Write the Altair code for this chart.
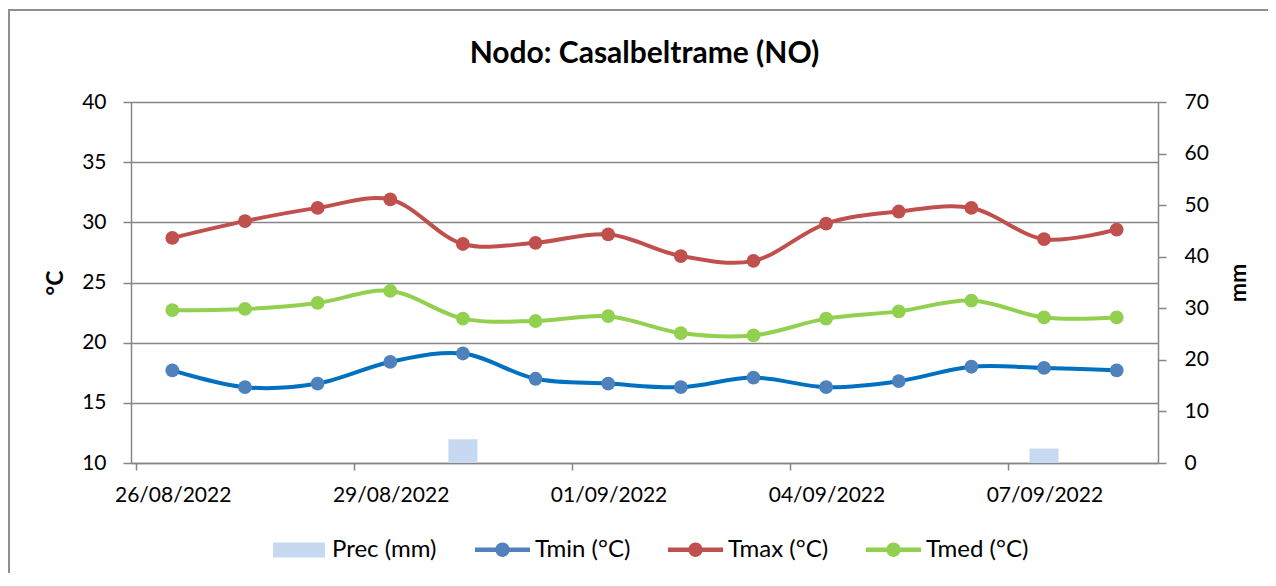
import altair as alt
import pandas as pd

# ---- data ----
dates = ["26/08/2022", "27/08/2022", "28/08/2022", "29/08/2022", "30/08/2022",
         "31/08/2022", "01/09/2022", "02/09/2022", "03/09/2022", "04/09/2022",
         "05/09/2022", "06/09/2022", "07/09/2022", "08/09/2022"]
tmin = [17.7, 16.3, 16.6, 18.4, 19.1, 17.0, 16.6, 16.3, 17.1, 16.3, 16.8, 18.0, 17.9, 17.7]
tmax = [28.7, 30.1, 31.2, 31.9, 28.2, 28.3, 29.0, 27.2, 26.8, 29.9, 30.9, 31.2, 28.6, 29.4]
tmed = [22.7, 22.8, 23.3, 24.3, 22.0, 21.8, 22.2, 20.8, 20.6, 22.0, 22.6, 23.5, 22.1, 22.1]
prec = [0, 0, 0, 0, 4.6, 0, 0, 0, 0, 0, 0, 0, 2.8, 0]
tick_days = [0, 3, 6, 9, 12]

series_names = ["Tmin (°C)", "Tmax (°C)", "Tmed (°C)"]
line_colors = ["#0070C0", "#C0504D", "#92D050"]
marker_colors = ["#4F81BD", "#C0504D", "#92D050"]
prec_name = "Prec (mm)"
prec_color = "#C6D9F1"

# ---- tables ----
rows = []
for name, vals in zip(series_names, [tmin, tmax, tmed]):
    for i, v in enumerate(vals):
        rows.append({"pos": i + 0.5, "date": dates[i], "series": name, "value": v})
temp_df = pd.DataFrame(rows)
prec_df = pd.DataFrame({"pos": [i + 0.5 for i in range(len(dates))],
                        "date": dates, "prec": prec, "series": prec_name})

W, H = 1027, 361
GRAY = "#868686"
FONT = "Lato"
LEG_FS = 24
half_day = W / len(dates) / 2

label_expr = "[" + ",".join("'" + d + "'" for d in dates) + "][datum.value]"
x_axis = alt.Axis(values=tick_days, labelExpr=label_expr, title=None, grid=False,
                  domainColor=GRAY, domainWidth=1.5, tickColor=GRAY, tickWidth=1.5,
                  tickSize=7, labelPadding=14, labelFontSize=21, labelColor="#000",
                  labelFont=FONT, labelAngle=0, labelOffset=half_day)
x_enc = alt.X("pos:Q", scale=alt.Scale(domain=[0, 14], nice=False, zero=False), axis=x_axis)

y_axis = alt.Axis(orient="left", values=[10, 15, 20, 25, 30, 35, 40], title="°C",
                  grid=True, gridColor=GRAY, gridWidth=1.5,
                  domainColor=GRAY, domainWidth=1.5, tickColor=GRAY, tickWidth=1.5,
                  tickSize=8, labelPadding=17, labelFontSize=21, labelColor="#000",
                  labelFont=FONT, titleFont=FONT, titleFontSize=23, titleFontWeight="bold",
                  titleAngle=-90, titleX=-76, titleY=H / 2, titleAlign="center",
                  titleBaseline="middle", titleColor="#000")
y_scale = alt.Scale(domain=[10, 40], nice=False, zero=False)

lines = alt.Chart(temp_df).mark_line(interpolate="catmull-rom", strokeWidth=4,
                                     strokeCap="round").encode(
    x=x_enc,
    y=alt.Y("value:Q", scale=y_scale, axis=y_axis),
    color=alt.Color("series:N", scale=alt.Scale(domain=series_names, range=line_colors),
                    legend=None),
)

line_symbol = ("M-1,-0.08H1V0.08H-1Z "
               "M0.26,0A0.26,0.26 0 1,1 -0.26,0A0.26,0.26 0 1,1 0.26,0Z")
points = alt.Chart(temp_df).mark_point(filled=True, size=190, opacity=1).encode(
    x=x_enc,
    y=alt.Y("value:Q", scale=y_scale, axis=y_axis),
    color=alt.Color("series:N", scale=alt.Scale(domain=series_names, range=marker_colors),
                    legend=alt.Legend(orient="none", legendX=344, legendY=420, direction="horizontal",
                                      columns=3, title=None, padding=0, symbolType=line_symbol,
                                      symbolSize=3025, symbolStrokeWidth=0, symbolOpacity=1,
                                      labelFontSize=LEG_FS, labelFont=FONT, labelColor="#000",
                                      labelOffset=5, columnPadding=37)),
)

temps = alt.layer(lines, points).resolve_scale(color="independent")

bars = alt.Chart(prec_df).mark_bar(size=29).encode(
    x=x_enc,
    y=alt.Y("prec:Q", scale=alt.Scale(domain=[0, 70], nice=False, zero=True),
            axis=alt.Axis(orient="right", values=[0, 10, 20, 30, 40, 50, 60, 70], title="mm",
                          grid=False, domainColor=GRAY, domainWidth=1.5, tickColor=GRAY,
                          tickWidth=1.5, tickSize=8, labelPadding=18, labelFontSize=21,
                          labelColor="#000", labelFont=FONT, titleFont=FONT, titleFontSize=23,
                          titleFontWeight="bold", titleAngle=-90, titleX=80, titleY=H / 2,
                          titleAlign="center", titleBaseline="middle", titleColor="#000")),
    color=alt.Color("series:N", scale=alt.Scale(domain=[prec_name], range=[prec_color]),
                    legend=alt.Legend(orient="none", legendX=142, legendY=422, title=None,
                                      padding=0, symbolType="M-1,-0.29H1V0.29H-1Z",
                                      symbolSize=2704, symbolStrokeWidth=0, symbolOpacity=1,
                                      labelFontSize=LEG_FS, labelFont=FONT, labelColor="#000",
                                      labelOffset=7)),
)

frame = alt.Chart(pd.DataFrame({"a": [0]})).mark_rect(
    fill=None, stroke="#8E8E8E", strokeWidth=2
).encode(x=alt.value(-122), x2=alt.value(W + 300), y=alt.value(-92), y2=alt.value(H + 300))

chart = alt.layer(bars, temps, frame).resolve_scale(
    y="independent", color="independent"
).properties(
    width=W, height=H,
    autosize=alt.AutoSizeParams(type="none"),
    padding={"left": 123, "top": 94, "right": 110, "bottom": 110},
    title=alt.TitleParams("Nodo: Casalbeltrame (NO)", fontSize=30, fontWeight="bold",
                          font=FONT, anchor="middle", offset=37, dy=97, color="#000"),
).configure_view(stroke=None).configure(font=FONT, background="white")

chart.save("out.html", embed_options={"renderer": "svg", "actions": False})
